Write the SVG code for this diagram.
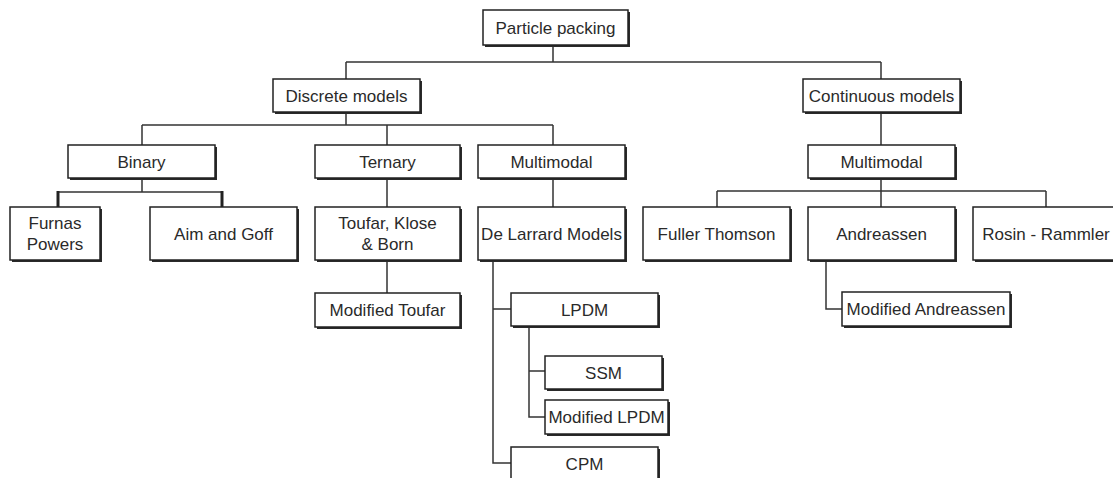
<svg xmlns="http://www.w3.org/2000/svg" width="1113" height="478" viewBox="0 0 1113 478">
<style>
.sh{fill:#2a2a2a}
.bx{fill:#fff;stroke:#222;stroke-width:1.5}
.t{font-family:"Liberation Sans",Arial,sans-serif;font-size:17px;fill:#2a2a2a;text-anchor:middle}
.c{fill:none;stroke:#333;stroke-width:1.5}
.ck{fill:none;stroke:#222;stroke-width:3}
</style>
<rect width="1113" height="478" fill="#fff"/>
<g id="connectors">
<path class="c" d="M553 45V62M346 62H881M346 62V79M881 62V79"/>
<path class="c" d="M346 112V125M142 125H553M142 125V145M387 125V145M553 125V145"/>
<path class="c" d="M881 112V145"/>
<path class="c" d="M142 178V192M58 192H222"/>
<path class="ck" d="M58 191V207M222 191V207"/>
<path class="c" d="M387 178V207M387 260V293"/>
<path class="c" d="M553 178V207M493 260V463H511M493 309H511"/>
<path class="c" d="M529 326V417H545M529 371H545"/>
<path class="c" d="M881 178V191M717 191H1046M717 191V207M881 191V207M1046 191V207"/>
<path class="c" d="M826 260V309H842"/>
</g>
<g id="particle-packing"><rect class="sh" x="485" y="12" width="145" height="35"/><rect class="bx" x="483" y="10" width="145" height="35"/><text class="t" x="555.5" y="33.5">Particle packing</text></g>
<g id="discrete-models"><rect class="sh" x="275" y="81" width="147" height="33"/><rect class="bx" x="273" y="79" width="147" height="33"/><text class="t" x="346.5" y="101.5">Discrete models</text></g>
<g id="continuous-models"><rect class="sh" x="805" y="81" width="157" height="33"/><rect class="bx" x="803" y="79" width="157" height="33"/><text class="t" x="881.5" y="101.5">Continuous models</text></g>
<g id="binary"><rect class="sh" x="70" y="147" width="147" height="33"/><rect class="bx" x="68" y="145" width="147" height="33"/><text class="t" x="141.5" y="167.5">Binary</text></g>
<g id="ternary"><rect class="sh" x="317" y="147" width="145" height="33"/><rect class="bx" x="315" y="145" width="145" height="33"/><text class="t" x="387.5" y="167.5">Ternary</text></g>
<g id="multimodal-discrete"><rect class="sh" x="480" y="147" width="147" height="33"/><rect class="bx" x="478" y="145" width="147" height="33"/><text class="t" x="551.5" y="167.5">Multimodal</text></g>
<g id="multimodal-continuous"><rect class="sh" x="810" y="147" width="147" height="33"/><rect class="bx" x="808" y="145" width="147" height="33"/><text class="t" x="881.5" y="167.5">Multimodal</text></g>
<g id="furnas-powers"><rect class="sh" x="12" y="209" width="90" height="53"/><rect class="bx" x="10" y="207" width="90" height="53"/><text class="t" x="55" y="229">Furnas</text><text class="t" x="55" y="250">Powers</text></g>
<g id="aim-goff"><rect class="sh" x="152" y="209" width="147" height="53"/><rect class="bx" x="150" y="207" width="147" height="53"/><text class="t" x="223.5" y="239.5">Aim and Goff</text></g>
<g id="toufar-klose-born"><rect class="sh" x="317" y="209" width="145" height="53"/><rect class="bx" x="315" y="207" width="145" height="53"/><text class="t" x="387.5" y="229">Toufar, Klose</text><text class="t" x="387.5" y="250">&amp; Born</text></g>
<g id="modified-toufar"><rect class="sh" x="317" y="295" width="145" height="34"/><rect class="bx" x="315" y="293" width="145" height="34"/><text class="t" x="387.5" y="316">Modified Toufar</text></g>
<g id="de-larrard-models"><rect class="sh" x="480" y="209" width="147" height="53"/><rect class="bx" x="478" y="207" width="147" height="53"/><text class="t" x="551.5" y="239.5">De Larrard Models</text></g>
<g id="lpdm"><rect class="sh" x="513" y="295" width="147" height="33"/><rect class="bx" x="511" y="293" width="147" height="33"/><text class="t" x="584.5" y="315.5">LPDM</text></g>
<g id="ssm"><rect class="sh" x="547" y="358" width="117" height="33"/><rect class="bx" x="545" y="356" width="117" height="33"/><text class="t" x="603.5" y="378.5">SSM</text></g>
<g id="modified-lpdm"><rect class="sh" x="547" y="402" width="123" height="34"/><rect class="bx" x="545" y="400" width="123" height="34"/><text class="t" x="606.5" y="423">Modified LPDM</text></g>
<g id="cpm"><rect class="sh" x="513" y="449" width="147" height="34"/><rect class="bx" x="511" y="447" width="147" height="34"/><text class="t" x="584.5" y="469.5">CPM</text></g>
<g id="fuller-thomson"><rect class="sh" x="645" y="209" width="147" height="53"/><rect class="bx" x="643" y="207" width="147" height="53"/><text class="t" x="716.5" y="239.5">Fuller Thomson</text></g>
<g id="andreassen"><rect class="sh" x="810" y="209" width="147" height="53"/><rect class="bx" x="808" y="207" width="147" height="53"/><text class="t" x="881.5" y="239.5">Andreassen</text></g>
<g id="rosin-rammler"><rect class="sh" x="975" y="209" width="147" height="53"/><rect class="bx" x="973" y="207" width="147" height="53"/><text class="t" x="1046" y="239.5">Rosin - Rammler</text></g>
<g id="modified-andreassen"><rect class="sh" x="844" y="294" width="168" height="34"/><rect class="bx" x="842" y="292" width="168" height="34"/><text class="t" x="926" y="315">Modified Andreassen</text></g>
</svg>
